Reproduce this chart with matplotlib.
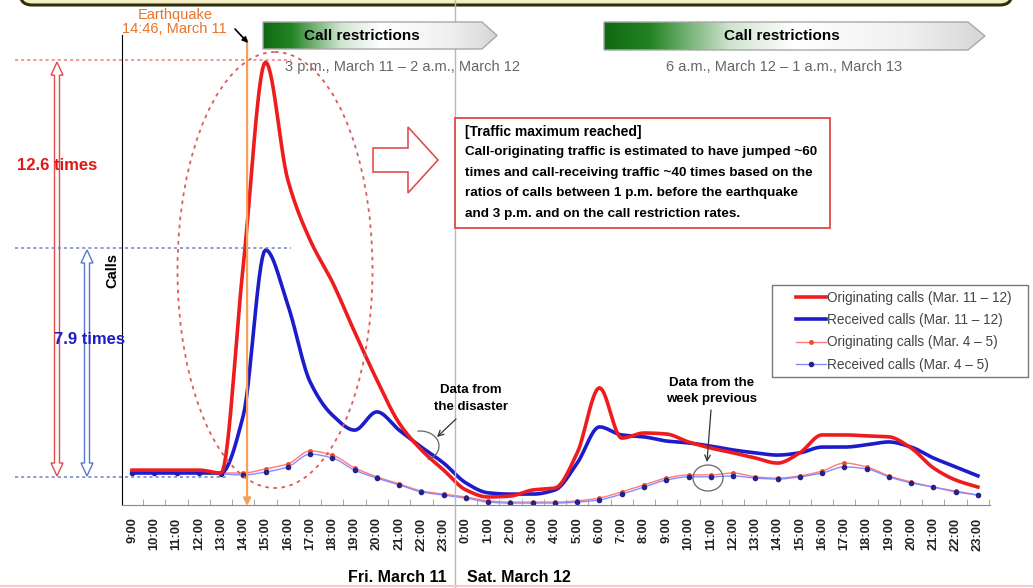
import numpy as np
import matplotlib
matplotlib.use('Agg')
import matplotlib.pyplot as plt
from matplotlib.patches import Ellipse, Polygon, Rectangle, FancyBboxPatch, Arc
from matplotlib.lines import Line2D
from matplotlib.colors import LinearSegmentedColormap

plt.rcParams['font.family'] = ['Liberation Sans', 'DejaVu Sans']

# hourly, 9:00 Fri March 11 .. 23:00 Sat March 12 (relative call volume)
hour_labels = [f"{h}:00" for h in list(range(9, 24)) + list(range(0, 24))]

orig_mar11 = [1.09, 1.09, 1.09, 1.09, 1.00, 7.50, 13.84, 10.16, 8.28, 6.97, 5.41, 3.91, 2.56,
              1.72, 1.09, 0.47, 0.25, 0.28, 0.47, 0.53, 1.63, 3.66, 2.09, 2.25, 2.22, 1.97,
              1.78, 1.63, 1.47, 1.31, 1.63, 2.19, 2.19, 2.16, 2.13, 1.78, 1.16, 0.78, 0.56]
recv_mar11 = [1.00, 1.00, 1.00, 1.00, 1.00, 2.80, 7.97, 6.25, 3.85, 2.81, 2.34, 2.91, 2.34,
              1.81, 1.31, 0.69, 0.38, 0.34, 0.34, 0.47, 1.31, 2.44, 2.19, 2.13, 2.00, 1.94,
              1.84, 1.72, 1.63, 1.56, 1.63, 1.81, 1.81, 1.88, 1.97, 1.81, 1.47, 1.19, 0.91]
orig_mar4 = [1.06, 1.06, 1.06, 1.06, 1.00, 1.00, 1.13, 1.28, 1.69, 1.56, 1.16, 0.88, 0.66,
             0.44, 0.34, 0.25, 0.13, 0.09, 0.09, 0.09, 0.13, 0.22, 0.41, 0.63, 0.84, 0.94,
             0.94, 1.00, 0.88, 0.84, 0.91, 1.06, 1.31, 1.19, 0.91, 0.72, 0.56, 0.44, 0.31]
recv_mar4 = [1.00, 1.00, 1.00, 1.00, 0.97, 0.94, 1.03, 1.19, 1.59, 1.47, 1.09, 0.84, 0.63,
             0.41, 0.31, 0.22, 0.09, 0.06, 0.06, 0.06, 0.09, 0.16, 0.34, 0.56, 0.78, 0.88,
             0.88, 0.91, 0.84, 0.81, 0.88, 1.00, 1.19, 1.13, 0.88, 0.69, 0.56, 0.41, 0.31]
normal_level = 0.875
quake_pos = 5.17      # marker position used on the chart
day_break = 14.5

legend_labels = ['Originating calls (Mar. 11 \u2013 12)', 'Received calls (Mar. 11 \u2013 12)',
                 'Originating calls (Mar. 4 \u2013 5)', 'Received calls (Mar. 4 \u2013 5)']
note_lines = ['Call-originating traffic is estimated to have jumped ~60',
              'times and call-receiving traffic ~40 times based on the',
              'ratios of calls between 1 p.m. before the earthquake',
              'and 3 p.m. and on the call restriction rates.']

RED = '#ee1c1c'
BLUE = '#1c1ccc'


def smooth(y, n=14):
    # monotone cubic through the hourly points, drawn as a smoothed line
    y = np.asarray(y, float)
    d = np.diff(y)
    m = np.zeros_like(y)
    m[0], m[-1] = d[0], d[-1]
    dp, dn = d[:-1], d[1:]
    same = dp * dn > 0
    m[1:-1] = np.where(same, 2 * dp * dn / np.where(same, dp + dn, 1), 0)
    t = np.linspace(0, 1, n, endpoint=False)[:, None]
    seg = ((2 * t ** 3 - 3 * t ** 2 + 1) * y[:-1] + (t ** 3 - 2 * t ** 2 + t) * m[:-1]
           + (-2 * t ** 3 + 3 * t ** 2) * y[1:] + (t ** 3 - t ** 2) * m[1:])
    xs = np.arange(len(y) - 1) + t
    return np.r_[xs.T.ravel(), len(y) - 1], np.r_[seg.T.ravel(), y[-1]]


fig = plt.figure(figsize=(10.33, 5.88), dpi=100)
ax = fig.add_axes([122 / 1033, 1 - 505 / 588, 868 / 1033, 470 / 588])
x = np.arange(len(hour_labels))

sx, sy = smooth(orig_mar4)
ax.plot(sx, sy, color='#ff7a7a', lw=1.0, zorder=2)
ax.plot(x, orig_mar4, ls='none', marker='o', ms=2.5, color='#e8502a', zorder=2)
sx, sy = smooth(recv_mar4)
ax.plot(sx, sy, color='#8a8aff', lw=1.0, zorder=2)
ax.plot(x, recv_mar4, ls='none', marker='o', ms=3, color='#222288', zorder=2)
sx, sy = smooth(orig_mar11)
ax.plot(sx, sy, color=RED, lw=2.6, zorder=4)
sx, sy = smooth(recv_mar11)
ax.plot(sx, sy, color=BLUE, lw=2.6, zorder=3)

ax.set_xlim(-10 / 22.26, 858 / 22.26)
ax.set_ylim(0, 470 / 32)
ax.set_xticks(x)
ax.set_xticklabels(hour_labels, rotation=90, fontsize=9.3, fontweight='bold', color='#222222')
ax.set_xticks(x + 0.5, minor=True)
ax.tick_params(axis='x', which='major', length=0, pad=9)
ax.tick_params(axis='x', which='minor', length=4, direction='in', color='#999999')
ax.set_yticks([])
for s in ['top', 'right']:
    ax.spines[s].set_visible(False)
ax.spines['left'].set_color('black')
ax.spines['bottom'].set_color('#888888')
ax.patch.set_alpha(0)
ax.set_ylabel('Calls', fontsize=10.5, fontweight='bold', labelpad=2)

handles = [Line2D([], [], color=RED, lw=2.6), Line2D([], [], color=BLUE, lw=2.6),
           Line2D([], [], color='#ff7a7a', lw=1, marker='o', ms=2.5, mfc='#e8502a', mec='#e8502a'),
           Line2D([], [], color='#8a8aff', lw=1, marker='o', ms=3, mfc='#222288', mec='#222288')]
leg = ax.legend(handles, legend_labels, loc='upper left', bbox_to_anchor=(796 / 1033, 1 - 291 / 588),
                bbox_transform=fig.transFigure, borderaxespad=0, frameon=False, fontsize=9.8,
                handlelength=2.2, handletextpad=0.05, labelspacing=0.6, borderpad=0)
for t in leg.get_texts():
    t.set_color('#444444')

# overlay in picture pixels for the annotations
ov = fig.add_axes([0, 0, 1, 1])
ov.axis('off')


def to_px(xd, yd):
    return ov.transData.inverted().transform(ax.transData.transform((xd, yd)))


ov.set_xlim(0, 1033)
ov.set_ylim(588, 0)

# legend frame
ov.add_patch(Rectangle((772, 285), 256, 92, fill=False, ec='#777777', lw=1))

# frame of the panel above
ov.add_patch(FancyBboxPatch((20, -40), 992, 45, boxstyle='round,pad=0,rounding_size=12',
                            fc='#f3efc4', ec='#2f2f10', lw=2.2))
ov.plot([0, 1033], [586, 586], color='#f6caca', lw=1.5)

# day divider
dx = to_px(day_break, 0)[0]
ov.plot([dx, dx], [0, 588], color='#b8b8b8', lw=1, zorder=1)

# peak reference lines and ratio arrows
red_peak = to_px(int(np.argmax(orig_mar11)), max(orig_mar11))
blue_peak = to_px(int(np.argmax(recv_mar11)), max(recv_mar11))
base_y = to_px(0, normal_level)[1]
ov.plot([15, red_peak[0] + 25], [red_peak[1] - 2] * 2, color='#f07878', lw=1.1, ls=(0, (2, 2)))
ov.plot([15, blue_peak[0] + 25], [blue_peak[1] - 2] * 2, color='#7080c0', lw=1.1, ls=(0, (2, 2)))
ov.plot([15, 228], [base_y, base_y], color='#7080c0', lw=1.1, ls=(0, (2, 2)))


def double_arrow(cx, yt, yb, color):
    hw, hl, sw = 6, 13, 2.5
    pts = [(cx, yt), (cx + hw, yt + hl), (cx + sw, yt + hl), (cx + sw, yb - hl), (cx + hw, yb - hl),
           (cx, yb), (cx - hw, yb - hl), (cx - sw, yb - hl), (cx - sw, yt + hl), (cx - hw, yt + hl)]
    ov.add_patch(Polygon(pts, closed=True, fc='white', ec=color, lw=1))


double_arrow(57, red_peak[1], base_y - 1, '#e84848')
double_arrow(87, blue_peak[1], base_y - 1, '#5a78c8')
ov.text(57, 165, '12.6 times', color='#e01818', fontsize=12, fontweight='bold', ha='center', va='center')
ov.text(89, 340, '7.9 times', color='#1c1cc8', fontsize=12, fontweight='bold', ha='center', va='center')

# earthquake marker
qx = to_px(quake_pos, 0)[0]
ov.annotate('', xy=(qx, 506), xytext=(qx, 40),
            arrowprops=dict(arrowstyle='-|>', color='#f5a05a', lw=1.6, mutation_scale=11,
                            shrinkA=0, shrinkB=0))
ov.text(175, 15, 'Earthquake', color='#e8742a', fontsize=10.5, ha='center', va='center')
ov.text(174, 29, '14:46, March 11', color='#e8742a', fontsize=10.5, ha='center', va='center')
ov.annotate('', xy=(qx + 1, 43), xytext=(235, 29),
            arrowprops=dict(arrowstyle='-|>', color='black', lw=1.2, mutation_scale=8,
                            shrinkA=0, shrinkB=0))

# call restriction chevrons
cmap = LinearSegmentedColormap.from_list('g', [(0, '#0f6a12'), (0.12, '#238423'), (0.33, '#cfe4cf'),
                                               (0.5, '#ffffff'), (0.8, '#f0f0f0'), (1, '#d6d6d6')])


def chevron(x0, x1, tip, y0, y1, label_x, sub_x, sub):
    poly = Polygon([(x0, y0), (x1, y0), (tip, (y0 + y1) / 2), (x1, y1), (x0, y1)], closed=True,
                   fc='none', ec='#a8a8a8', lw=1, zorder=3)
    ov.add_patch(poly)
    im = ov.imshow(np.linspace(0, 1, 256)[None, :], cmap=cmap, extent=(x0, tip, y1, y0),
                   aspect='auto', zorder=2)
    im.set_clip_path(poly)
    ov.text(label_x, (y0 + y1) / 2, 'Call restrictions', fontsize=11, fontweight='bold',
            ha='center', va='center', zorder=4)
    ov.text(sub_x, 67, sub, fontsize=10.5, color='#666666', ha='left', va='center')


chevron(263, 482, 497, 22, 49, 362, 285, '3 p.m., March 11 \u2013 2 a.m., March 12')
chevron(604, 968, 985, 22, 50, 782, 666, '6 a.m., March 12 \u2013 1 a.m., March 13')

# dotted ellipse around the surge
ov.add_patch(Ellipse((275, 270), 195, 436, fill=False, ec='#e05a5a', lw=1.3, ls=(0, (2, 2.5))))

# hollow arrow and note box
ov.add_patch(Polygon([(373, 148), (408, 148), (408, 127), (438, 160), (408, 193), (408, 172), (373, 172)],
                     closed=True, fc='white', ec='#e05050', lw=1.2))
ov.add_patch(Rectangle((455, 118), 375, 110, fc='white', ec='#e04848', lw=1.3))
ov.text(465, 132, '[Traffic maximum reached]', fontsize=10, fontweight='bold', va='center')
for k, line in enumerate(note_lines):
    ov.text(465, 152 + 20.6 * k, line, fontsize=9.7, fontweight='bold', va='center')

# callouts
ov.text(471, 390, 'Data from', fontsize=9.5, fontweight='bold', ha='center', va='center')
ov.text(471, 407, 'the disaster', fontsize=9.5, fontweight='bold', ha='center', va='center')
ov.annotate('', xy=(437, 437), xytext=(456, 419),
            arrowprops=dict(arrowstyle='->', color='#333333', lw=0.9, shrinkA=0, shrinkB=0))
ov.add_patch(Arc((420, 446), 38, 30, theta1=-100, theta2=60, color='#666666', lw=0.9))
ov.text(712, 383, 'Data from the', fontsize=9.5, fontweight='bold', ha='center', va='center')
ov.text(712, 399, 'week previous', fontsize=9.5, fontweight='bold', ha='center', va='center')
ov.annotate('', xy=(707, 462), xytext=(711, 410),
            arrowprops=dict(arrowstyle='->', color='#333333', lw=0.9, shrinkA=0, shrinkB=0))
ov.add_patch(Arc((708, 478), 30, 26, theta1=-300, theta2=60, color='#666666', lw=0.9))

ov.text(dx - 8, 577, 'Fri. March 11', fontsize=11.5, fontweight='bold', ha='right', va='center')
ov.text(dx + 12, 577, 'Sat. March 12', fontsize=11.5, fontweight='bold', ha='left', va='center')

ov.set_xlim(0, 1033)
ov.set_ylim(588, 0)
fig.savefig('out.png', dpi=100)
